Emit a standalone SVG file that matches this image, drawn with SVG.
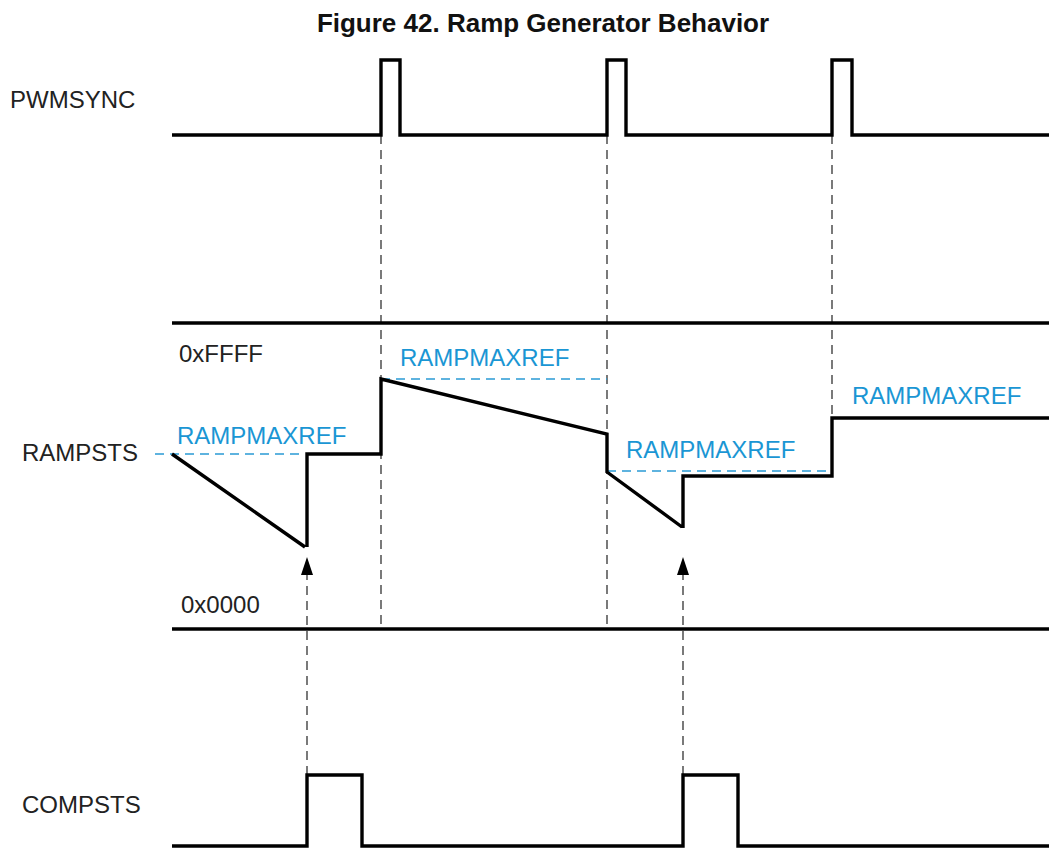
<svg xmlns="http://www.w3.org/2000/svg" width="1049" height="848" viewBox="0 0 1049 848">
<style>
.sig{fill:none;stroke:#000;stroke-width:3.4;stroke-linejoin:miter}
.guide{fill:none;stroke:#333;stroke-width:1.3;stroke-dasharray:9,6}
.ref{fill:none;stroke:#2a9ad5;stroke-width:1.3;stroke-dasharray:9,6}
.lbl{font-family:"Liberation Sans",Arial,sans-serif;font-size:24px;fill:#222}
.blue{font-family:"Liberation Sans",Arial,sans-serif;font-size:24px;fill:#1a96d4}
.title{font-family:"Liberation Sans",Arial,sans-serif;font-size:26px;font-weight:bold;fill:#111}
</style>
<text class="title" x="543" y="32" text-anchor="middle">Figure 42. Ramp Generator Behavior</text>
<g id="connectors">
<line class="guide" x1="381" y1="135" x2="381" y2="629"/>
<line class="guide" x1="607" y1="135" x2="607" y2="629"/>
<line class="guide" x1="832" y1="135" x2="832" y2="418"/>
<line class="guide" x1="307" y1="775" x2="307" y2="572"/>
<line class="guide" x1="683" y1="775" x2="683" y2="572"/>
<path d="M307,557 L313,575 L301,575 Z" fill="#000"/>
<path d="M683,557 L689,575 L677,575 Z" fill="#000"/>
</g>
<g id="pwmsync">
<text class="lbl" x="10" y="108">PWMSYNC</text>
<path class="sig" d="M172,135 H381 V60 H400 V135 H607 V60 H626 V135 H832 V60 H852 V135 H1049"/>
</g>
<g id="rampsts">
<text class="lbl" x="22" y="461">RAMPSTS</text>
<line class="sig" x1="172" y1="323" x2="1049" y2="323"/>
<line class="sig" x1="172" y1="629" x2="1049" y2="629"/>
<text class="lbl" x="179" y="362">0xFFFF</text>
<text class="lbl" x="181" y="613">0x0000</text>
<line class="ref" x1="155" y1="454" x2="305" y2="454"/>
<line class="ref" x1="381" y1="379" x2="607" y2="379"/>
<line class="ref" x1="607" y1="471" x2="832" y2="471"/>
<path class="sig" d="M172,454 L305,547 M307,547 V454 H381 V379 L607,434 V472 L682,527 M683,528 V476 H832 V418 H1049"/>
<text class="blue" x="177" y="444">RAMPMAXREF</text>
<text class="blue" x="400" y="366">RAMPMAXREF</text>
<text class="blue" x="626" y="458">RAMPMAXREF</text>
<text class="blue" x="852" y="404">RAMPMAXREF</text>
</g>
<g id="compsts">
<text class="lbl" x="22" y="813">COMPSTS</text>
<path class="sig" d="M172,846 H307 V775 H362 V846 H683 V775 H738 V846 H1049"/>
</g>
</svg>
